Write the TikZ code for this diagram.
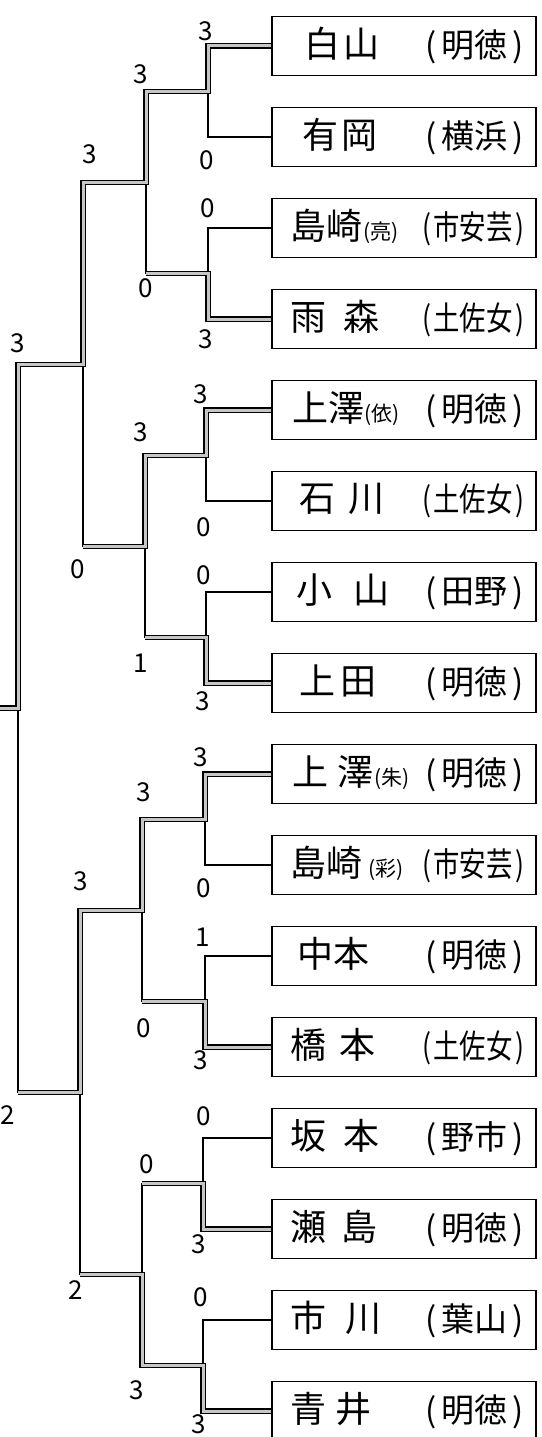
\documentclass[tikz,border=0pt]{standalone}
\usepackage{fontspec}
\usepackage{graphicx}
\newfontfamily\jp{Noto Sans CJK JP}
\newcommand{\nmfont}{\jp\fontsize{36}{40}\selectfont}
\newcommand{\subn}[1]{{\jp\fontsize{21}{22}\selectfont(#1)}}
\newcommand{\schtwo}[1]{{\jp\fontsize{33}{36}\selectfont(\hspace{5pt}#1\hspace{5pt})}}
\newcommand{\schthree}[1]{\scalebox{0.8}[1]{\jp\fontsize{33}{36}\selectfont(\hspace{3pt}#1\hspace{3pt})}}
\newcommand{\entry}[2]{\hspace*{18pt}\makebox[234pt][l]{\nmfont #1\hfill #2}\hspace*{12pt}}
\tikzset{
  box/.style={draw, line width=1.5pt, rectangle, inner sep=0pt, minimum height=59pt, minimum width=264pt},
  ln/.style={draw, line width=1.3pt},
  hl/.style={draw, line width=1.2pt, double=gray!45, double distance=3pt},
  sc/.style={font=\jp\fontsize{26}{26}\selectfont, inner sep=0pt}
}
\begin{document}
\begin{tikzpicture}[x=1pt, y=-1pt]
\useasboundingbox (0,0) rectangle (541,1437);
\fill[white] (0,0) rectangle (541,1437);
\clip (0,0) rectangle (541,1437);
% boxes
\node[box] (b1)  at (404,46)   {\entry{\hspace*{14pt}白\hspace{4pt}山}{\schtwo{明徳}}};
\node[box] (b2)  at (404,137)  {\entry{\hspace*{12pt}有\hspace{4pt}岡}{\schtwo{横浜}}};
\node[box] (b3)  at (404,228)  {\entry{島崎\hspace{1pt}\subn{亮}}{\schthree{市安芸}}};
\node[box] (b4)  at (404,319)  {\entry{雨\hspace{18pt}森}{\schthree{土佐女}}};
\node[box] (b5)  at (404,410)  {\entry{\hspace*{2pt}上澤\subn{依}}{\schtwo{明徳}}};
\node[box] (b6)  at (404,501)  {\entry{\hspace*{9pt}石\hspace{14pt}川}{\schthree{土佐女}}};
\node[box] (b7)  at (404,592)  {\entry{\hspace*{6pt}小\hspace{22pt}山}{\schtwo{田野}}};
\node[box] (b8)  at (404,683)  {\entry{\hspace*{9pt}上\hspace{6pt}田}{\schtwo{明徳}}};
\node[box] (b9)  at (404,774)  {\entry{\hspace*{2pt}上\hspace{10pt}澤\subn{朱}}{\schtwo{明徳}}};
\node[box] (b10) at (404,865)  {\entry{島崎\hspace{6pt}\subn{彩}}{\schthree{市安芸}}};
\node[box] (b11) at (404,956)  {\entry{\hspace*{7pt}中本}{\schtwo{明徳}}};
\node[box] (b12) at (404,1047) {\entry{橋\hspace{14pt}本}{\schthree{土佐女}}};
\node[box] (b13) at (404,1138) {\entry{坂\hspace{18pt}本}{\schtwo{野市}}};
\node[box] (b14) at (404,1229) {\entry{瀬\hspace{16pt}島}{\schtwo{明徳}}};
\node[box] (b15) at (404,1320) {\entry{市\hspace{20pt}川}{\schtwo{葉山}}};
\node[box] (b16) at (404,1411) {\entry{青\hspace{10pt}井}{\schtwo{明徳}}};
% junctions
\coordinate (m1) at (208,91.5);
\coordinate (m2) at (208,273.5);
\coordinate (m3) at (206,455.5);
\coordinate (m4) at (206,637.5);
\coordinate (m5) at (205,819.5);
\coordinate (m6) at (205,1001.5);
\coordinate (m7) at (203,1183.5);
\coordinate (m8) at (203,1365.5);
\coordinate (q1) at (146,182.5);
\coordinate (q2) at (145,546.5);
\coordinate (q3) at (142,910.5);
\coordinate (q4) at (142,1274.5);
\coordinate (r1) at (83,364.5);
\coordinate (r2) at (80,1092.5);
\coordinate (f) at (18,708);
\coordinate (out) at (0,708);
% bracket lines
\draw[ln] (b1.west) -| (m1) |- (b2.west);
\draw[ln] (b3.west) -| (m2) |- (b4.west);
\draw[ln] (b5.west) -| (m3) |- (b6.west);
\draw[ln] (b7.west) -| (m4) |- (b8.west);
\draw[ln] (b9.west) -| (m5) |- (b10.west);
\draw[ln] (b11.west) -| (m6) |- (b12.west);
\draw[ln] (b13.west) -| (m7) |- (b14.west);
\draw[ln] (b15.west) -| (m8) |- (b16.west);
\draw[ln] (m1) -| (q1) |- (m2);
\draw[ln] (m3) -| (q2) |- (m4);
\draw[ln] (m5) -| (q3) |- (m6);
\draw[ln] (m7) -| (q4) |- (m8);
\draw[ln] (q1) -| (r1) |- (q2);
\draw[ln] (q3) -| (r2) |- (q4);
\draw[ln] (r1) -| (f) |- (r2);
\draw[ln] (f) -- (out);
% winners' paths
\draw[hl] (b1.west) -| (m1) -- (q1 |- m1) -- (q1) -- (r1 |- q1) -- (r1) -- (f |- r1) -- (f) -- (out);
\draw[hl] (b4.west) -| (m2) -- (q1 |- m2);
\draw[hl] (b5.west) -| (m3) -- (q2 |- m3) -- (q2) -- (r1 |- q2);
\draw[hl] (b8.west) -| (m4) -- (q2 |- m4);
\draw[hl] (b9.west) -| (m5) -- (q3 |- m5) -- (q3) -- (r2 |- q3) -- (r2) -- (f |- r2);
\draw[hl] (b12.west) -| (m6) -- (q3 |- m6);
\draw[hl] (b14.west) -| (m7) -- (q4 |- m7);
\draw[hl] (b16.west) -| (m8) -- (q4 |- m8) -- (q4) -- (r2 |- q4);
% scores round 1
\node[sc] (s1) at (206,31) {3};
\node[sc] (s2) at (207,160) {0};
\node[sc] (s3) at (208,208) {0};
\node[sc] (s4) at (206,339) {3};
\node[sc] (s5) at (201,394) {3};
\node[sc] (s6) at (204,527) {0};
\node[sc] (s7) at (204,575) {0};
\node[sc] (s8) at (203,701) {3};
\node[sc] (s9) at (201,757) {3};
\node[sc] (s10) at (204,888) {0};
\node[sc] (s11) at (203,937) {1};
\node[sc] (s12) at (201,1060) {3};
\node[sc] (s13) at (204,1116) {0};
\node[sc] (s14) at (199,1244) {3};
\node[sc] (s15) at (201,1297) {0};
\node[sc] (s16) at (199,1424) {3};
% scores round 2
\node[sc] (t1) at (141,74) {3};
\node[sc] (t2) at (146,288) {0};
\node[sc] (t3) at (141,432) {3};
\node[sc] (t4) at (141,663) {1};
\node[sc] (t5) at (144,792) {3};
\node[sc] (t6) at (144,1028) {0};
\node[sc] (t7) at (147,1164) {0};
\node[sc] (t8) at (137,1390) {3};
% scores round 3
\node[sc] (u1) at (90,154) {3};
\node[sc] (u2) at (78,569) {0};
\node[sc] (u3) at (81,881) {3};
\node[sc] (u4) at (76,1290) {2};
% final
\node[sc] (v1) at (18,343) {3};
\node[sc] (v2) at (8,1115) {2};
\end{tikzpicture}
\end{document}
